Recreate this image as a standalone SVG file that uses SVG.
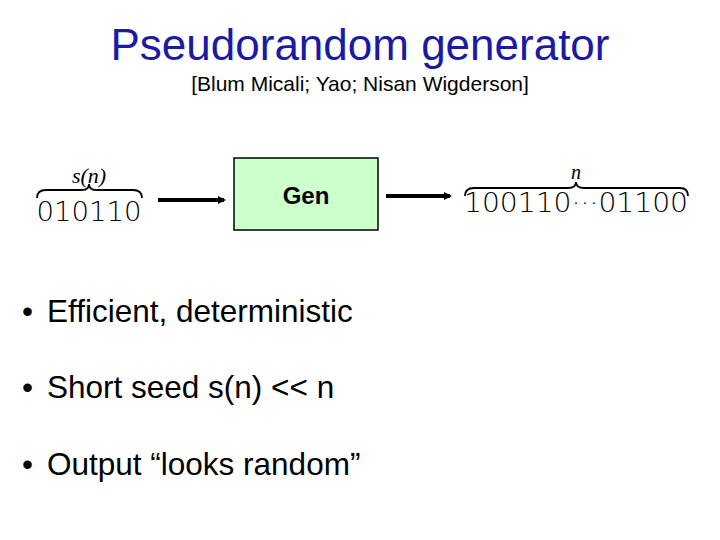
<svg xmlns="http://www.w3.org/2000/svg" width="720" height="540" viewBox="0 0 720 540">
<style>
.t{font-family:"Liberation Sans",Arial,sans-serif}
.m{font-family:"DejaVu Sans","Liberation Sans",sans-serif;font-weight:300}
.br{fill:none;stroke:#000;stroke-width:1.8}
.c{stroke:#000;stroke-width:4;fill:none}
</style>
<defs><marker id="a" markerWidth="8" markerHeight="8" refX="6" refY="4" orient="auto" markerUnits="userSpaceOnUse"><path d="M0,0L8,4L0,8z"/></marker></defs>
<rect width="720" height="540" fill="#fff"/>
<text class="t" x="360" y="60" font-size="44" fill="#1a1aa6" text-anchor="middle">Pseudorandom generator</text>
<text class="t" x="360" y="91" font-size="21" text-anchor="middle">[Blum Micali; Yao; Nisan Wigderson]</text>
<g id="seed">
<text x="89" y="183" font-size="22" font-style="italic" text-anchor="middle" font-family="Liberation Serif,serif">s(n)</text>
<path class="br" d="M37,198 Q37,190 46,190 L82,190 Q89,190 89,184 Q89,190 96,190 L133,190 Q142,190 142,198"/>
<text class="m" x="89" y="221" font-size="27" text-anchor="middle" textLength="105" lengthAdjust="spacingAndGlyphs">010110</text>
</g>
<g id="gen">
<rect x="234" y="158" width="144" height="72" fill="#ccffcc" stroke="#000" stroke-width="1.5"/>
<text class="t" x="306" y="204" font-size="24" font-weight="bold" text-anchor="middle">Gen</text>
</g>
<g id="output">
<text x="576" y="179" font-size="20" font-style="italic" text-anchor="middle" font-family="Liberation Serif,serif">n</text>
<path class="br" d="M465,196 Q465,188 474,188 L568,188 Q576,188 576,182 Q576,188 584,188 L680,188 Q688,188 688,196"/>
<text class="m" x="576" y="212" font-size="27" text-anchor="middle" textLength="224" lengthAdjust="spacingAndGlyphs">100110···01100</text>
</g>
<g id="connectors">
<line class="c" x1="158" y1="200" x2="224" y2="200" marker-end="url(#a)"/>
<line class="c" x1="386" y1="196" x2="450" y2="196" marker-end="url(#a)"/>
</g>
<g class="t" font-size="31.5">
<text x="22" y="322">•</text><text x="47" y="322">Efficient, deterministic</text>
<text x="22" y="398">•</text><text x="47" y="398">Short seed s(n) &lt;&lt; n</text>
<text x="22" y="475">•</text><text x="47" y="475">Output “looks random”</text>
</g>
</svg>
